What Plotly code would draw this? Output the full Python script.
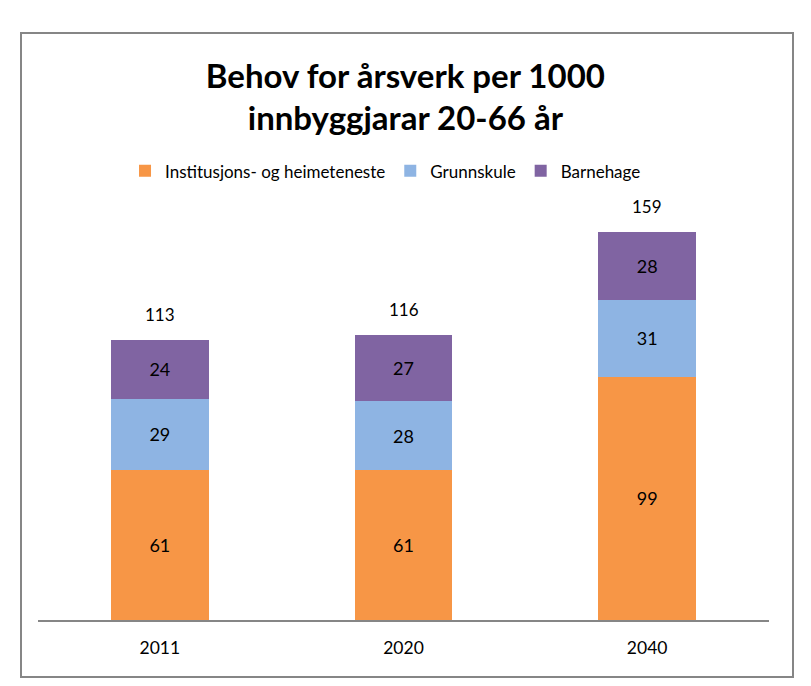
import plotly.graph_objects as go

categories = ["2011", "2020", "2040"]
institusjon = [61, 61, 99]
grunnskule = [29, 28, 31]
barnehage = [24, 27, 28]
totals = [113, 116, 159]

series = [
    ("Institusjons- og heimeteneste", institusjon, "#F79646"),
    ("Grunnskule", grunnskule, "#8EB4E3"),
    ("Barnehage", barnehage, "#8064A2"),
]

FONT = "Lato"
fig = go.Figure()
for name, vals, col in series:
    fig.add_trace(go.Bar(
        x=categories, y=vals, name=name, marker=dict(color=col, line=dict(width=0)),
        text=[str(v) for v in vals], textposition="inside", insidetextanchor="middle",
        textfont=dict(family=FONT, size=18, color="#000000"), width=0.4,
    ))

stack_tops = [a + b + c for a, b, c in zip(institusjon, grunnskule, barnehage)]
for idx, (top, tot) in enumerate(zip(stack_tops, totals)):
    fig.add_annotation(x=idx, y=top, text=str(tot), showarrow=False, yshift=25,
                       yanchor="middle", font=dict(family=FONT, size=17, color="#000000"))

fig.update_layout(
    width=811, height=686, barmode="stack",
    plot_bgcolor="white", paper_bgcolor="white",
    margin=dict(l=30, r=50, t=194, b=74),
    title=dict(text="<b>Behov for årsverk per 1000<br>innbyggjarar 20-66 år</b>",
               x=0.490, xanchor="center", y=0.884, yanchor="middle",
               font=dict(family=FONT, size=33, color="#000000")),
    legend=dict(orientation="h", x=0.4754, xanchor="center", y=1.0734, yanchor="middle",
                font=dict(family=FONT, size=17, color="#000000"), traceorder="normal",
                itemwidth=30),
    showlegend=True,
    xaxis=dict(type="category", range=[-0.5, 2.5], showline=True, linecolor="#868686",
               linewidth=2, ticks="", ticklabelstandoff=11,
               tickfont=dict(family=FONT, size=17.5, color="#000000")),
    yaxis=dict(range=[0, 170], visible=False, showgrid=False),
    shapes=[dict(type="rect", xref="paper", yref="paper",
                 x0=(21 - 38) / 731, x1=(793 - 38) / 731,
                 y0=(620 - 677) / 418, y1=(620 - 33) / 418,
                 line=dict(color="#868686", width=2))],
)

fig.write_html("out.html")
